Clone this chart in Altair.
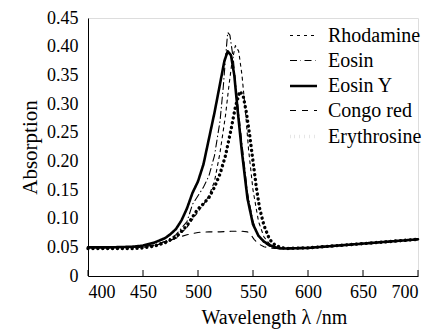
import altair as alt
import pandas as pd

FONT = "Liberation Serif"
series_order = ["Rhodamine", "Eosin", "Eosin Y", "Congo red", "Erythrosine"]

tail_wl = [600, 620, 640, 660, 680, 700]
tail_ab = [0.049, 0.052, 0.055, 0.058, 0.061, 0.064]

rhod_wl = [400, 440, 450, 460, 470, 480, 490, 500, 505, 510, 515, 520, 525, 528, 531, 534, 537, 540, 543, 546, 550, 555, 560, 565, 570, 575, 580]
rhod_ab = [0.050, 0.050, 0.050, 0.053, 0.058, 0.066, 0.085, 0.112, 0.125, 0.140, 0.165, 0.215, 0.280, 0.330, 0.375, 0.402, 0.392, 0.350, 0.290, 0.220, 0.150, 0.095, 0.068, 0.056, 0.051, 0.049, 0.048]

eosin_wl = [400, 440, 450, 460, 470, 480, 490, 495, 500, 505, 510, 515, 520, 523, 525, 527, 529, 532, 535, 540, 545, 550, 555, 560, 565, 570, 575, 580]
eosin_ab = [0.050, 0.050, 0.051, 0.054, 0.060, 0.072, 0.095, 0.125, 0.140, 0.155, 0.175, 0.210, 0.270, 0.330, 0.380, 0.425, 0.420, 0.380, 0.320, 0.230, 0.145, 0.095, 0.070, 0.058, 0.052, 0.050, 0.048, 0.048]

eosy_wl = [400, 420, 440, 450, 460, 470, 475, 480, 485, 490, 495, 500, 505, 510, 515, 520, 524, 527, 530, 533, 536, 540, 545, 550, 555, 560, 565, 570, 575, 580]
eosy_ab = [0.050, 0.050, 0.051, 0.053, 0.058, 0.066, 0.073, 0.082, 0.097, 0.118, 0.145, 0.165, 0.195, 0.240, 0.285, 0.335, 0.375, 0.392, 0.385, 0.350, 0.290, 0.215, 0.135, 0.090, 0.070, 0.060, 0.054, 0.050, 0.048, 0.048]

congo_wl = [400, 440, 450, 460, 470, 480, 490, 500, 510, 520, 530, 540, 545, 548, 551, 555, 560, 565, 570, 575, 580]
congo_ab = [0.050, 0.050, 0.051, 0.054, 0.060, 0.066, 0.072, 0.076, 0.077, 0.077, 0.078, 0.078, 0.077, 0.072, 0.064, 0.056, 0.051, 0.049, 0.048, 0.048, 0.048]

eryth_wl = [400, 440, 450, 460, 470, 480, 490, 495, 500, 505, 510, 515, 520, 525, 530, 534, 538, 541, 544, 547, 550, 553, 556, 560, 565, 570, 575, 580]
eryth_ab = [0.048, 0.048, 0.049, 0.052, 0.058, 0.068, 0.088, 0.103, 0.117, 0.126, 0.137, 0.155, 0.178, 0.210, 0.255, 0.295, 0.322, 0.315, 0.285, 0.245, 0.200, 0.155, 0.118, 0.088, 0.064, 0.054, 0.050, 0.048]

x_ticks = [400, 450, 500, 550, 600, 650, 700]
y_ticks = [0, 0.05, 0.10, 0.15, 0.20, 0.25, 0.30, 0.35, 0.40, 0.45]

rows = []
for name, wl, ab in [("Rhodamine", rhod_wl, rhod_ab), ("Eosin", eosin_wl, eosin_ab),
                     ("Eosin Y", eosy_wl, eosy_ab), ("Congo red", congo_wl, congo_ab),
                     ("Erythrosine", eryth_wl, eryth_ab)]:
    for w, a in zip(wl + tail_wl, ab + tail_ab):
        rows.append({"series": name, "wavelength": w, "abs": a})
df = pd.DataFrame(rows)
ticks_df = pd.DataFrame({"wl": x_ticks})

W, H = 330, 258

legend = alt.Legend(
    title=None, orient="none", legendX=200, legendY=3,
    symbolType="stroke", symbolSize=729, symbolStrokeColor="black",
    labelFont=FONT, labelFontSize=20, labelColor="black", labelOffset=9,
    rowPadding=-7.5, labelLimit=200,
)

x_enc = alt.X("wavelength:Q", scale=alt.Scale(domain=[400, 700], nice=False),
              axis=alt.Axis(values=x_ticks, ticks=False, grid=False, domainColor="black",
                            labelFont=FONT, labelFontSize=18, labelColor="black", labelPadding=7,
                            title="Wavelength λ /nm", titleFont=FONT, titleFontSize=20,
                            titleFontWeight="normal", titleColor="black", titlePadding=6,
                            titleX=186))
y_enc = alt.Y("abs:Q", scale=alt.Scale(domain=[0, 0.45], nice=False, zero=True),
              axis=alt.Axis(values=y_ticks, ticks=False, grid=False, domainColor="black",
                            labelExpr="datum.value == 0 ? '0' : format(datum.value, '.2f')",
                            labelFont=FONT, labelFontSize=18, labelColor="black", labelPadding=10,
                            title="Absorption", titleFont=FONT, titleFontSize=21,
                            titleFontWeight="normal", titleColor="black", titlePadding=6))

lines = alt.Chart(df).mark_line(strokeCap="round", strokeJoin="round").encode(
    x=x_enc, y=y_enc,
    color=alt.Color("series:N", scale=alt.Scale(domain=series_order, range=["black"] * 5), legend=legend),
    strokeDash=alt.StrokeDash("series:N", scale=alt.Scale(domain=series_order,
                              range=[[3, 4], [7, 3.5, 0.5, 3.5], [1, 0], [6, 6], [0.1, 4.8]]), legend=legend),
    strokeWidth=alt.StrokeWidth("series:N", scale=alt.Scale(type="ordinal", domain=series_order,
                                range=[1.1, 1.1, 2.6, 1.1, 3.4]), legend=legend),
)

ticks = alt.Chart(ticks_df).mark_rule(color="black", strokeWidth=1).encode(
    x=alt.X("wl:Q"), y=alt.value(H), y2=alt.value(H - 6))

chart = alt.layer(lines, ticks).properties(
    width=W, height=H,
    autosize=alt.AutoSizeParams(type="none"),
    padding={"left": 80, "top": 10, "right": 19, "bottom": 56},
).configure_view(stroke=None).configure(background="white")

chart.save("out.html", embed_options={"renderer": "svg", "actions": False})
